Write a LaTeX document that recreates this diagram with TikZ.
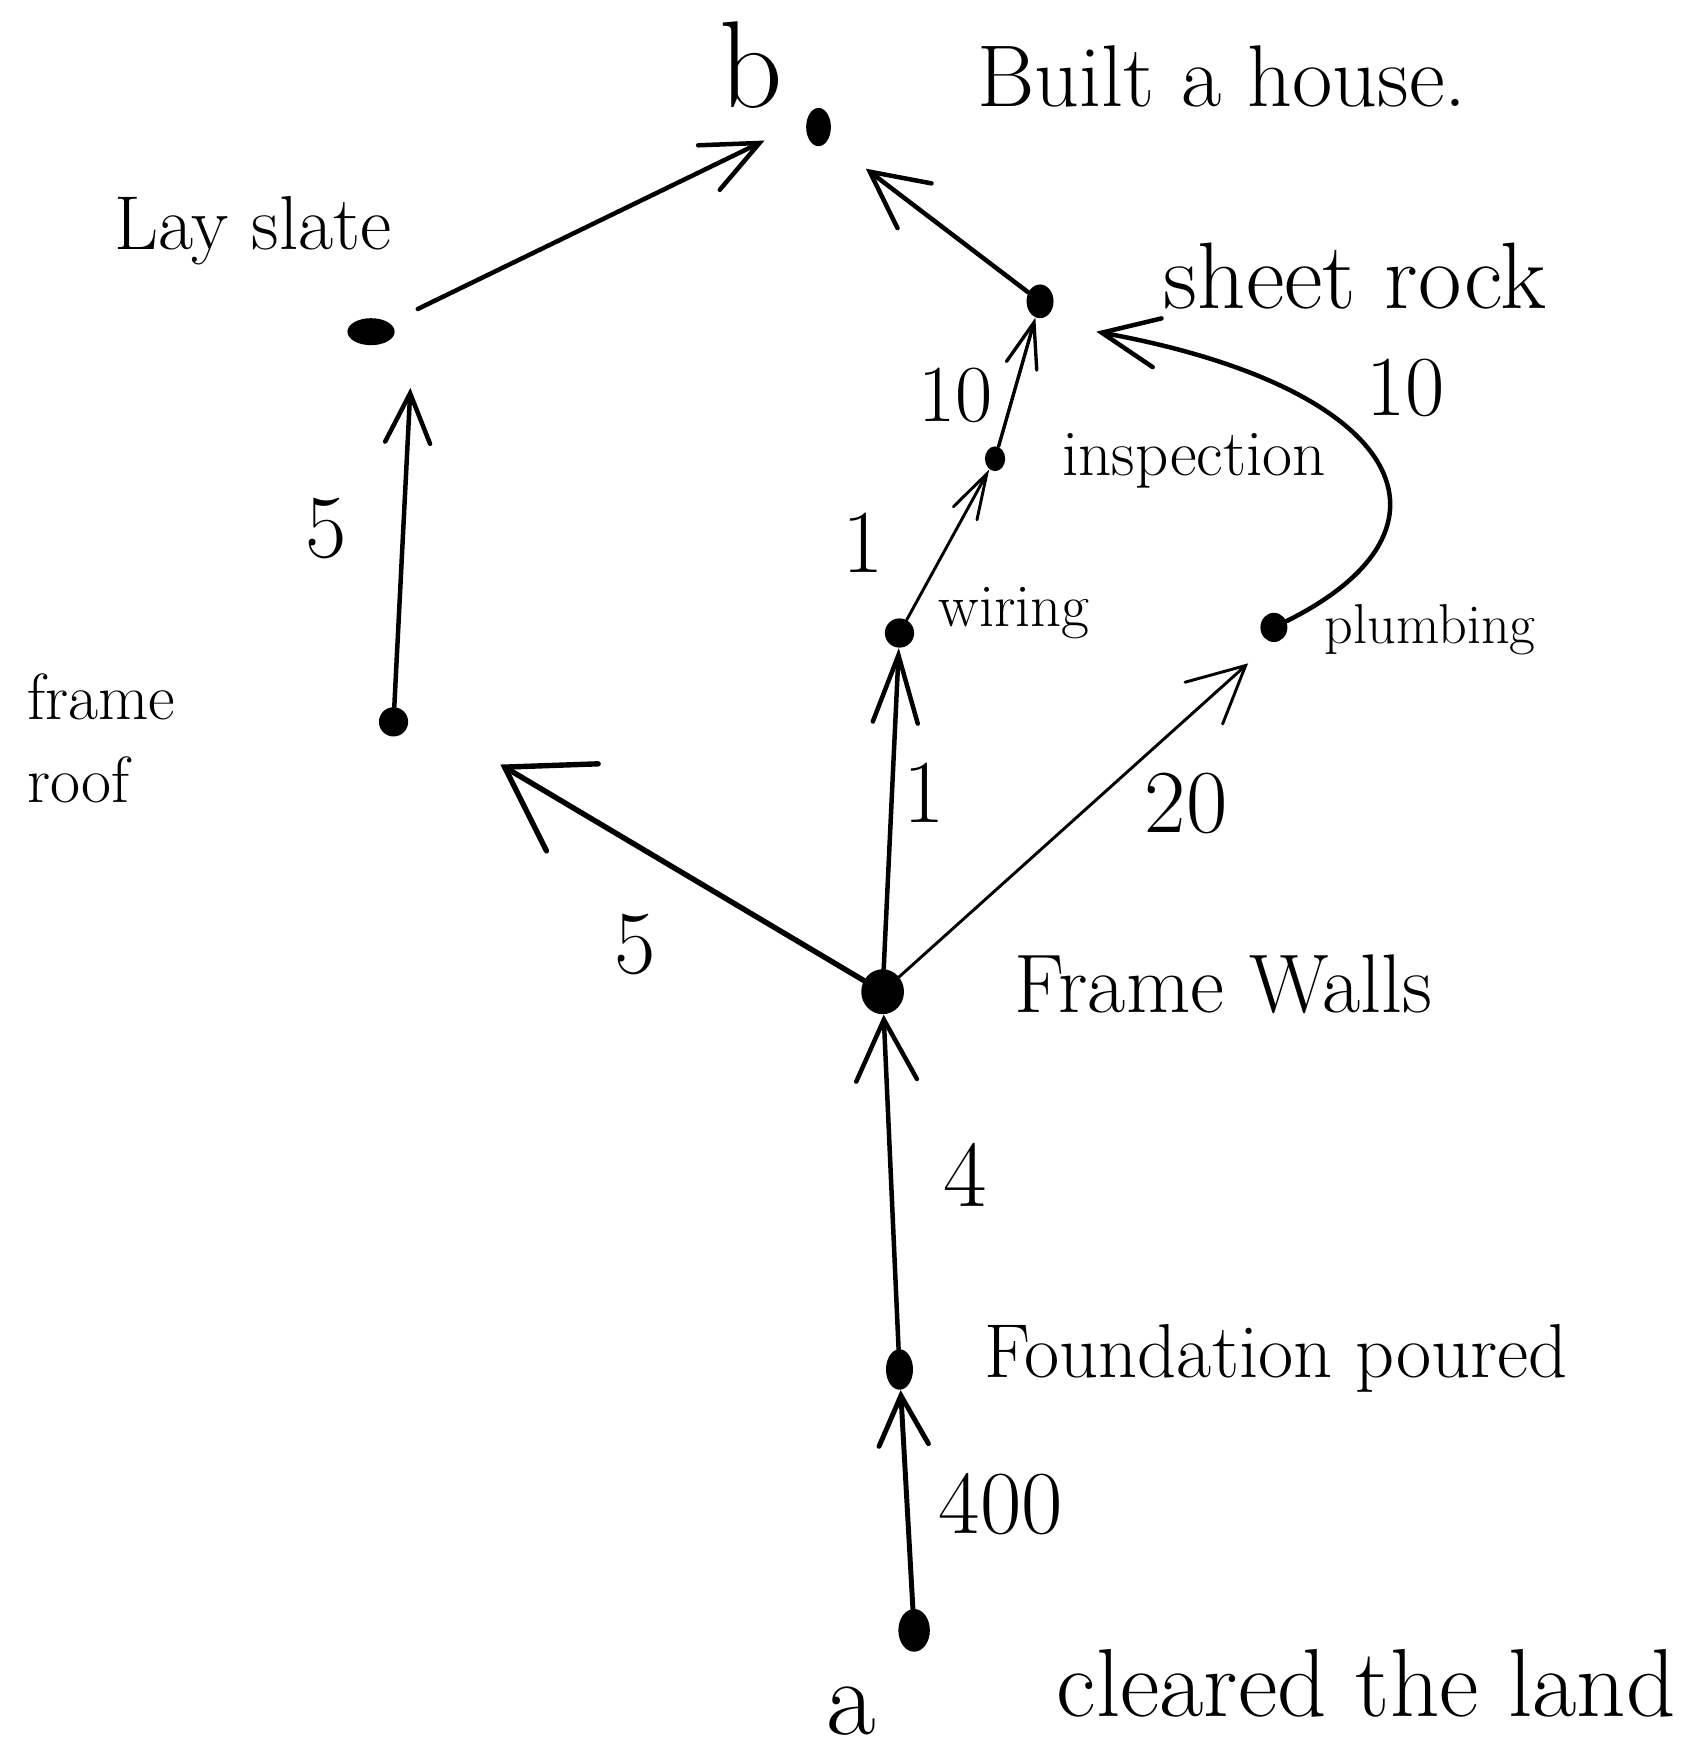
\documentclass[tikz,border=0pt]{standalone}
\usetikzlibrary{arrows.meta,shapes.geometric,calc}
\begin{document}
\begin{tikzpicture}[x=0.5pt,y=-0.5pt,
  dot/.style={ellipse,fill=black,draw=none,inner sep=0pt},
  lbl/.style={inner sep=0pt,font=\fontsize{#1}{#1}\selectfont},
  edge/.style={draw=black,line width=#1,line cap=round,line join=round},
  barb/.style args={#1/#2}{-{Straight Barb[length=#1,width=#2,line cap=round]}}
]
\fill[white] (0,0) rectangle (1519,1568);
\useasboundingbox (0,0) rectangle (1519,1568);

% event dots
\node[dot,minimum width=11pt,minimum height=17pt] (b) at (728,113) {};
\node[dot,minimum width=21pt,minimum height=12pt] (slate) at (330,295) {};
\node[dot,minimum width=12pt,minimum height=15pt] (sr) at (925,268) {};
\node[dot,minimum width=9pt,minimum height=11pt] (insp) at (885,408) {};
\node[dot,minimum width=13pt,minimum height=13pt] (wiring) at (800,563) {};
\node[dot,minimum width=12pt,minimum height=13pt] (plumb) at (1133,558) {};
\node[dot,minimum width=13pt,minimum height=13pt] (roof) at (350,642) {};
\node[dot,minimum width=19pt,minimum height=20pt] (fw) at (785,882) {};
\node[dot,minimum width=12pt,minimum height=18pt] (found) at (800,1218) {};
\node[dot,minimum width=14pt,minimum height=19pt] (a) at (813,1450) {};

% labels
\node[lbl=55pt] (tb) at (668,58) {b};
\node[lbl=39pt] (tBuilt) at (1087,68) {Built a house.};
\node[lbl=34pt] (tLay) at (225,205) {Lay slate};
\node[lbl=42pt] (tSR) at (1205,246) {sheet rock};
\node[lbl=29pt] (tIn) at (1062,410) {inspection};
\node[lbl=27pt] (tW) at (902,545) {wiring};
\node[lbl=25pt] (tP) at (1272,560) {plumbing};
\node[inner sep=0pt,align=left,font=\fontsize{29pt}{37pt}\selectfont] (tRoof) at (90,657) {frame\\roof};
\node[lbl=37pt] (tFW) at (1088,875) {Frame Walls};
\node[lbl=34pt] (tF) at (1135,1208) {Foundation poured};
\node[lbl=48pt] (ta) at (757,1522) {a};
\node[lbl=43pt] (tC) at (1215,1497) {cleared the land};

% durations
\node[lbl=36pt] (n1) at (850,352) {10};
\node[lbl=38pt] (n2) at (1250,345) {10};
\node[lbl=40pt] (n3) at (768,483) {1};
\node[lbl=40pt] (n4) at (290,470) {5};
\node[lbl=40pt] (n5) at (822,705) {1};
\node[lbl=40pt] (n6) at (1055,715) {20};
\node[lbl=40pt] (n7) at (565,840) {5};
\node[lbl=42pt] (n8) at (858,1045) {4};
\node[lbl=40pt] (n9) at (890,1338) {400};

% connectors
\draw[edge=2.2pt,barb=22pt/22pt] (a) -- (found);
\draw[edge=2pt,barb=27pt/27pt] (found) -- (fw);
\draw[edge=2.4pt,barb=35pt/45pt] (fw) -- ($(roof)+(95,38)$);
\draw[edge=2pt,barb=30pt/20pt] (fw) -- (wiring);
\draw[edge=1.3pt,barb=25pt/25pt] (fw) -- ($(plumb)+(-23,32)$);
\draw[edge=1.3pt,barb=20pt/12pt] (wiring) -- (insp);
\draw[edge=1.5pt,barb=20pt/14pt] (insp) -- (sr);
\draw[edge=2pt,barb=25pt/22pt] (plumb) .. controls (1310,470) and (1250,345) .. ($(sr)+(50,27)$);
\draw[edge=2pt,barb=22pt/20pt] (roof) -- ($(slate)+(35,50)$);
\draw[edge=2pt,barb=25pt/22pt,shorten <=14pt] (slate) -- ($(b)+(-48,12)$);
\draw[edge=2pt,barb=25pt/25pt] (sr) -- ($(b)+(42,37)$);
\end{tikzpicture}
\end{document}
